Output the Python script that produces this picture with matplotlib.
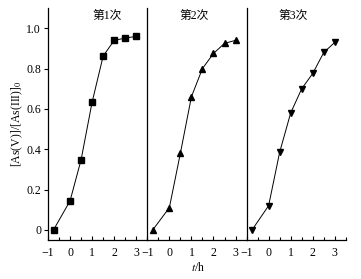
import matplotlib
matplotlib.use("Agg")
import matplotlib.pyplot as plt
from matplotlib.ticker import MultipleLocator

plt.rcParams['font.family'] = ['Liberation Serif', 'Noto Sans CJK SC']
plt.rcParams['mathtext.fontset'] = 'stix'
plt.rcParams['axes.unicode_minus'] = True

t = [-0.75, 0, 0.5, 1, 1.5, 2, 2.5, 3]
run1 = [0.0, 0.144, 0.348, 0.634, 0.862, 0.94, 0.951, 0.96]
run2 = [0.0, 0.11, 0.38, 0.66, 0.80, 0.875, 0.925, 0.94]
run3 = [0.0, 0.12, 0.385, 0.58, 0.70, 0.776, 0.88, 0.93]
titles = ['第1次', '第2次', '第3次']
markers = ['s', '^', 'v']
xticks = [-1, 0, 1, 2, 3]
yticks = [0, 0.2, 0.4, 0.6, 0.8, 1.0]
ytick_labels = ['0', '0.2', '0.4', '0.6', '0.8', '1.0']

fig = plt.figure(figsize=(3.61, 2.79), dpi=100)
left, right, bottom, top = 0.133, 0.958, 0.140, 0.971
w = (right - left) / 3
series = [run1, run2, run3]
title_x = [0.6, 0.47, 0.47]
for i in range(3):
    ax = fig.add_axes([left + i * w, bottom, w, top - bottom])
    ax.plot(t, series[i], color='black', lw=0.7, marker=markers[i],
            markersize=4.5, markerfacecolor='black', markeredgecolor='black')
    ax.set_xlim(-1, 3.5)
    ax.set_ylim(-0.05, 1.1)
    ax.set_xticks(xticks)
    ax.set_xticklabels(['\u2212' + str(-v) if v < 0 else str(v) for v in xticks])
    ax.xaxis.set_minor_locator(MultipleLocator(0.5))
    ax.spines['top'].set_visible(False)
    ax.spines['right'].set_visible(False)
    for s in ['left', 'bottom']:
        ax.spines[s].set_linewidth(0.9)
    ax.tick_params(axis='x', which='both', direction='in', length=3, width=0.8,
                   labelsize=8.5, pad=5)
    ax.tick_params(axis='x', which='minor', length=2)
    ax.set_yticks(yticks)
    if i == 0:
        ax.set_yticklabels(ytick_labels)
        ax.tick_params(axis='y', direction='out', length=3, width=0.8, labelsize=8.5, pad=2)
    else:
        ax.tick_params(axis='y', left=False, labelleft=False)
    ax.text(title_x[i], 0.965, titles[i], transform=ax.transAxes, ha='center',
            va='center', fontsize=8.5)

fig.text(0.048, (bottom + top) / 2, '[As(V)]/[As(III)]$_0$', rotation=90,
         ha='center', va='center', fontsize=8.5)
fig.text(0.55, 0.04, '$t$/h', ha='center', va='center', fontsize=8.5)
fig.savefig('out.png', dpi=100)
